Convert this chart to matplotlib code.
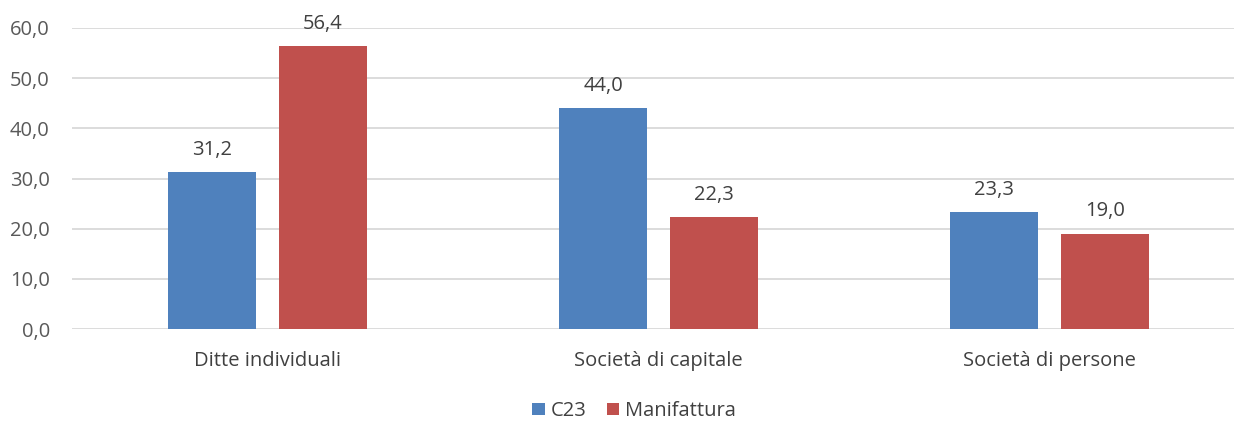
import matplotlib
matplotlib.use("Agg")
import matplotlib.pyplot as plt
import numpy as np

categories = ["Ditte individuali", "Società di capitale", "Società di persone"]
c23 = [31.2, 44.0, 23.3]
manifattura = [56.4, 22.3, 19.0]
series_names = ["C23", "Manifattura"]
yticks = [0, 10, 20, 30, 40, 50, 60]

blue = "#4F81BD"
red = "#C0504D"
txt = "#595959"
lbl = "#404040"

plt.rcParams['font.family'] = ['Open Sans', 'DejaVu Sans']
fs = 14.5

W, H = 1234, 421
fig = plt.figure(figsize=(W/100, H/100), dpi=100)
left, right = 72, 1245
top, bottom = 28, 329
ax = fig.add_axes([left/W, 1 - bottom/H, (right-left)/W, (bottom-top)/H])

x = np.arange(len(categories))
bw = 88/391
gap = 23/391
off = (bw + gap)/2
b1 = ax.bar(x - off, c23, bw, color=blue, label=series_names[0], zorder=3)
b2 = ax.bar(x + off, manifattura, bw, color=red, label=series_names[1], zorder=3)

for bars, vals in ((b1, c23), (b2, manifattura)):
    for b, v in zip(bars, vals):
        ax.annotate(f"{v:.1f}".replace(".", ","), (b.get_x() + b.get_width()/2, v),
                    xytext=(0, 9), textcoords="offset points", ha="center", va="bottom",
                    fontsize=fs, color=lbl)

ax.set_xlim(-0.5, len(categories) - 0.5)
ax.set_ylim(0, 60)
ax.set_yticks(yticks)
ax.set_yticklabels([f"{t:.1f}".replace(".", ",") for t in yticks], fontsize=fs, color=txt)
ax.set_xticks(x)
ax.set_xticklabels(categories, fontsize=fs, color=lbl)
ax.tick_params(axis='both', length=0)
ax.tick_params(axis='y', pad=16)
ax.tick_params(axis='x', pad=16)
ax.grid(axis='y', color="#D9D9D9", linewidth=1.3, zorder=0)
for s in ax.spines.values():
    s.set_visible(False)

leg = fig.legend(handles=[b1, b2], labels=series_names, loc="center", bbox_to_anchor=(634/W, 1 - 411/H),
                 ncol=2, frameon=False, fontsize=fs, handlelength=0.6, handleheight=0.6,
                 handletextpad=0.3, columnspacing=1.0)
for t in leg.get_texts():
    t.set_color(lbl)

fig.savefig("out.png", dpi=100)
